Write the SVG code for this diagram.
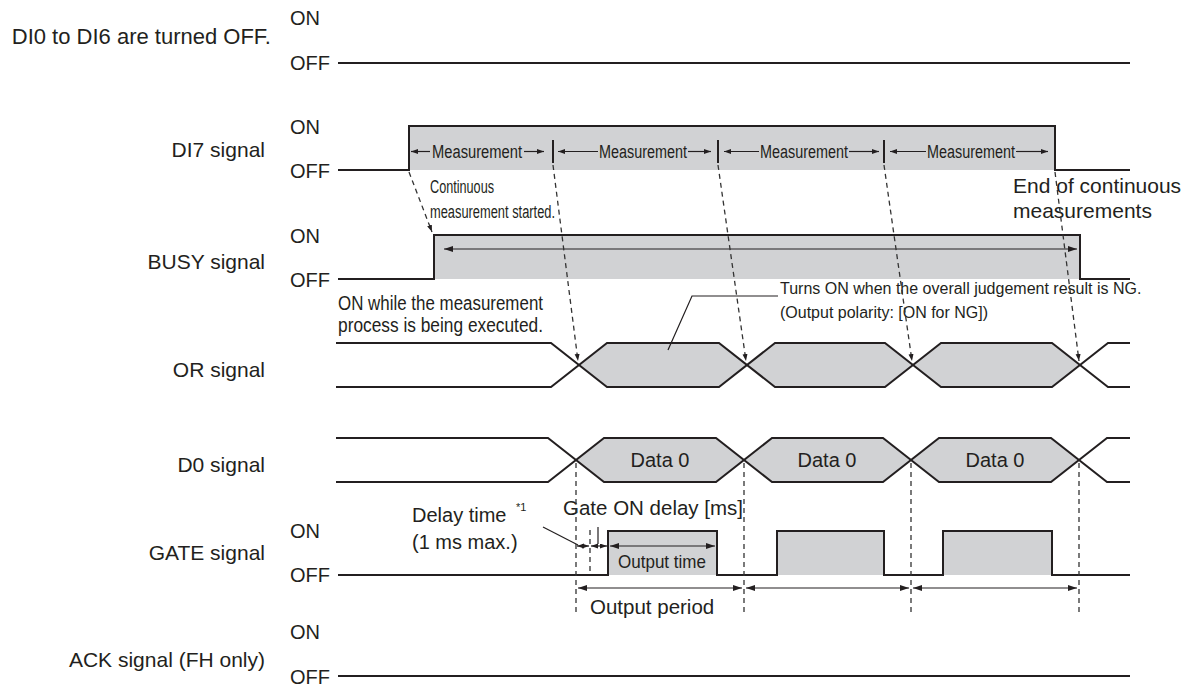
<svg xmlns="http://www.w3.org/2000/svg" width="1190" height="686" viewBox="0 0 1190 686">
<defs>
<style>
text{font-family:"Liberation Sans",Arial,sans-serif;fill:#231f20}
.lbl{font-size:21px}
.lvl{font-size:20px}
.nar{font-family:"Liberation Sans Narrow","Liberation Sans",Arial,sans-serif}
.wave{fill:none;stroke:#231f20;stroke-width:2}
.fill{fill:#d1d2d4;stroke:none}
.dim{fill:none;stroke:#231f20;stroke-width:1.2}
.dash{fill:none;stroke:#333;stroke-width:1.3;stroke-dasharray:5,4}
</style>
<marker id="ah" markerUnits="userSpaceOnUse" markerWidth="10" markerHeight="6" refX="9" refY="3" orient="auto-start-reverse">
<path d="M0,0 L9,3 L0,6 Z" fill="#231f20"/>
</marker>
<marker id="ahs" markerUnits="userSpaceOnUse" markerWidth="8" markerHeight="6" refX="7" refY="2.5" orient="auto-start-reverse">
<path d="M0,0 L7,2.5 L0,5 Z" fill="#231f20"/>
</marker>
</defs>

<g id="row-di0">
<text font-size="22" x="271" y="44" text-anchor="end">DI0 to DI6 are turned OFF.</text>
<text class="lvl" x="290" y="25">ON</text>
<text class="lvl" x="290" y="70">OFF</text>
<path class="wave" d="M338,63 H1130"/>
</g>

<g id="row-di7">
<text class="lbl" x="265" y="157" text-anchor="end">DI7 signal</text>
<text class="lvl" x="290" y="134">ON</text>
<text class="lvl" x="290" y="178">OFF</text>
<rect class="fill" x="409" y="126" width="646" height="44"/>
<path class="wave" d="M338,170 H409 V126 H1055 V170 H1130"/>
<path class="wave" d="M553,140 V163 M718,140 V163 M884,140 V163"/>
<g class="dim">
<line x1="430" y1="151.5" x2="411" y2="151.5" marker-end="url(#ahs)"/>
<line x1="524" y1="151.5" x2="544" y2="151.5" marker-end="url(#ahs)"/>
<line x1="598" y1="151.5" x2="558" y2="151.5" marker-end="url(#ahs)"/>
<line x1="688" y1="151.5" x2="711" y2="151.5" marker-end="url(#ahs)"/>
<line x1="759" y1="151.5" x2="724" y2="151.5" marker-end="url(#ahs)"/>
<line x1="849" y1="151.5" x2="879" y2="151.5" marker-end="url(#ahs)"/>
<line x1="926" y1="151.5" x2="890" y2="151.5" marker-end="url(#ahs)"/>
<line x1="1016" y1="151.5" x2="1048" y2="151.5" marker-end="url(#ahs)"/>
</g>
<text class="nar" font-size="18" x="477" y="158" text-anchor="middle" textLength="90" lengthAdjust="spacingAndGlyphs">Measurement</text>
<text class="nar" font-size="18" x="643" y="158" text-anchor="middle" textLength="88" lengthAdjust="spacingAndGlyphs">Measurement</text>
<text class="nar" font-size="18" x="804" y="158" text-anchor="middle" textLength="88" lengthAdjust="spacingAndGlyphs">Measurement</text>
<text class="nar" font-size="18" x="971" y="158" text-anchor="middle" textLength="88" lengthAdjust="spacingAndGlyphs">Measurement</text>
<text class="nar" font-size="18" x="430" y="193" textLength="64" lengthAdjust="spacingAndGlyphs">Continuous</text>
<text class="nar" font-size="18" x="430" y="218" textLength="125" lengthAdjust="spacingAndGlyphs">measurement started.</text>
<text font-size="21" x="1013" y="193">End of continuous</text>
<text font-size="21" x="1013" y="218">measurements</text>
</g>

<g id="row-busy">
<text class="lbl" x="265" y="269" text-anchor="end">BUSY signal</text>
<text class="lvl" x="290" y="243">ON</text>
<text class="lvl" x="290" y="287">OFF</text>
<rect class="fill" x="434" y="235" width="646" height="44"/>
<path class="wave" d="M338,279 H434 V235 H1080 V279 H1130"/>
<line class="dim" x1="444" y1="249" x2="1077" y2="249" marker-start="url(#ah)" marker-end="url(#ah)"/>
<text class="nar" font-size="19.5" x="338" y="310" textLength="205" lengthAdjust="spacingAndGlyphs">ON while the measurement</text>
<text class="nar" font-size="19.5" x="338" y="332" textLength="205" lengthAdjust="spacingAndGlyphs">process is being executed.</text>
</g>

<g id="row-or">
<text class="lbl" x="265" y="377" text-anchor="end">OR signal</text>
<polygon class="fill" points="579,365 607,343 719,343 747,365 719,387 607,387"/>
<polygon class="fill" points="747,365 775,343 885,343 913,365 885,387 775,387"/>
<polygon class="fill" points="913,365 941,343 1052,343 1080,365 1052,387 941,387"/>
<path class="wave" d="M336,343 H551 L607,387 H719 L775,343 H885 L941,387 H1052 L1108,343 H1130"/>
<path class="wave" d="M336,387 H551 L607,343 H719 L775,387 H885 L941,343 H1052 L1108,387 H1130"/>
<path class="dim" d="M668,350 L692,296 H778"/>
<text font-size="16" x="780" y="294">Turns ON when the overall judgement result is NG.</text>
<text font-size="16" x="780" y="318">(Output polarity: [ON for NG])</text>
</g>

<g id="row-d0">
<text class="lbl" x="265" y="472" text-anchor="end">D0 signal</text>
<polygon class="fill" points="576,460 604,438 716,438 744,460 716,482 604,482"/>
<polygon class="fill" points="744,460 772,438 883,438 911,460 883,482 772,482"/>
<polygon class="fill" points="911,460 939,438 1051,438 1079,460 1051,482 939,482"/>
<path class="wave" d="M336,438 H548 L604,482 H716 L772,438 H883 L939,482 H1051 L1107,438 H1130"/>
<path class="wave" d="M336,482 H548 L604,438 H716 L772,482 H883 L939,438 H1051 L1107,482 H1130"/>
<text font-size="20" x="660" y="467" text-anchor="middle">Data 0</text>
<text font-size="20" x="827" y="467" text-anchor="middle">Data 0</text>
<text font-size="20" x="995" y="467" text-anchor="middle">Data 0</text>
</g>

<g id="row-gate">
<text class="lbl" x="265" y="560" text-anchor="end">GATE signal</text>
<text class="lvl" x="290" y="538">ON</text>
<text class="lvl" x="290" y="582">OFF</text>
<rect class="fill" x="608" y="531" width="109" height="44"/>
<rect class="fill" x="777" y="531" width="107" height="44"/>
<rect class="fill" x="943" y="531" width="109" height="44"/>
<path class="wave" d="M338,575 H608 V531 H717 V575 H777 V531 H884 V575 H943 V531 H1052 V575 H1130"/>
<text font-size="20.5" x="563" y="515">Gate ON delay [ms]</text>
<text font-size="20" x="412" y="522">Delay time</text>
<text font-size="11" x="516" y="511">*1</text>
<text font-size="20" x="412" y="549">(1 ms max.)</text>
<g class="dim">
<line x1="543" y1="527" x2="578" y2="545"/>
<line x1="598" y1="527" x2="598" y2="544"/>
<line x1="577" y1="546" x2="589" y2="546" marker-start="url(#ahs)" marker-end="url(#ahs)"/>
<line x1="591" y1="546" x2="607" y2="546" marker-start="url(#ahs)" marker-end="url(#ahs)"/>
<line x1="610" y1="546" x2="715" y2="546" marker-start="url(#ah)" marker-end="url(#ah)"/>
<line x1="578" y1="588" x2="742" y2="588" marker-start="url(#ah)" marker-end="url(#ah)"/>
<line x1="746" y1="588" x2="909" y2="588" marker-start="url(#ah)" marker-end="url(#ah)"/>
<line x1="913" y1="588" x2="1077" y2="588" marker-start="url(#ah)" marker-end="url(#ah)"/>
</g>
<text class="nar" font-size="18.5" x="662" y="568" text-anchor="middle" textLength="88" lengthAdjust="spacingAndGlyphs">Output time</text>
<text font-size="20.5" x="590" y="614">Output period</text>
</g>

<g id="row-ack">
<text class="lbl" x="265" y="667" text-anchor="end">ACK signal (FH only)</text>
<text class="lvl" x="290" y="639">ON</text>
<text class="lvl" x="290" y="684">OFF</text>
<path class="wave" d="M338,676 H1130"/>
</g>

<g id="connectors">
<line class="dash" x1="409" y1="172" x2="432" y2="232" marker-end="url(#ahs)"/>
<line class="dash" x1="553" y1="165" x2="578" y2="361" marker-end="url(#ahs)"/>
<line class="dash" x1="718" y1="165" x2="746" y2="361" marker-end="url(#ahs)"/>
<line class="dash" x1="884" y1="165" x2="912" y2="361" marker-end="url(#ahs)"/>
<line class="dash" x1="1055" y1="172" x2="1079" y2="361" marker-end="url(#ahs)"/>
<line class="dash" x1="576" y1="463" x2="576" y2="615"/>
<line class="dash" x1="744" y1="463" x2="744" y2="615"/>
<line class="dash" x1="911" y1="463" x2="911" y2="615"/>
<line class="dash" x1="1079" y1="463" x2="1079" y2="615"/>
<line class="dash" x1="590" y1="530" x2="590" y2="573"/>
</g>
</svg>
